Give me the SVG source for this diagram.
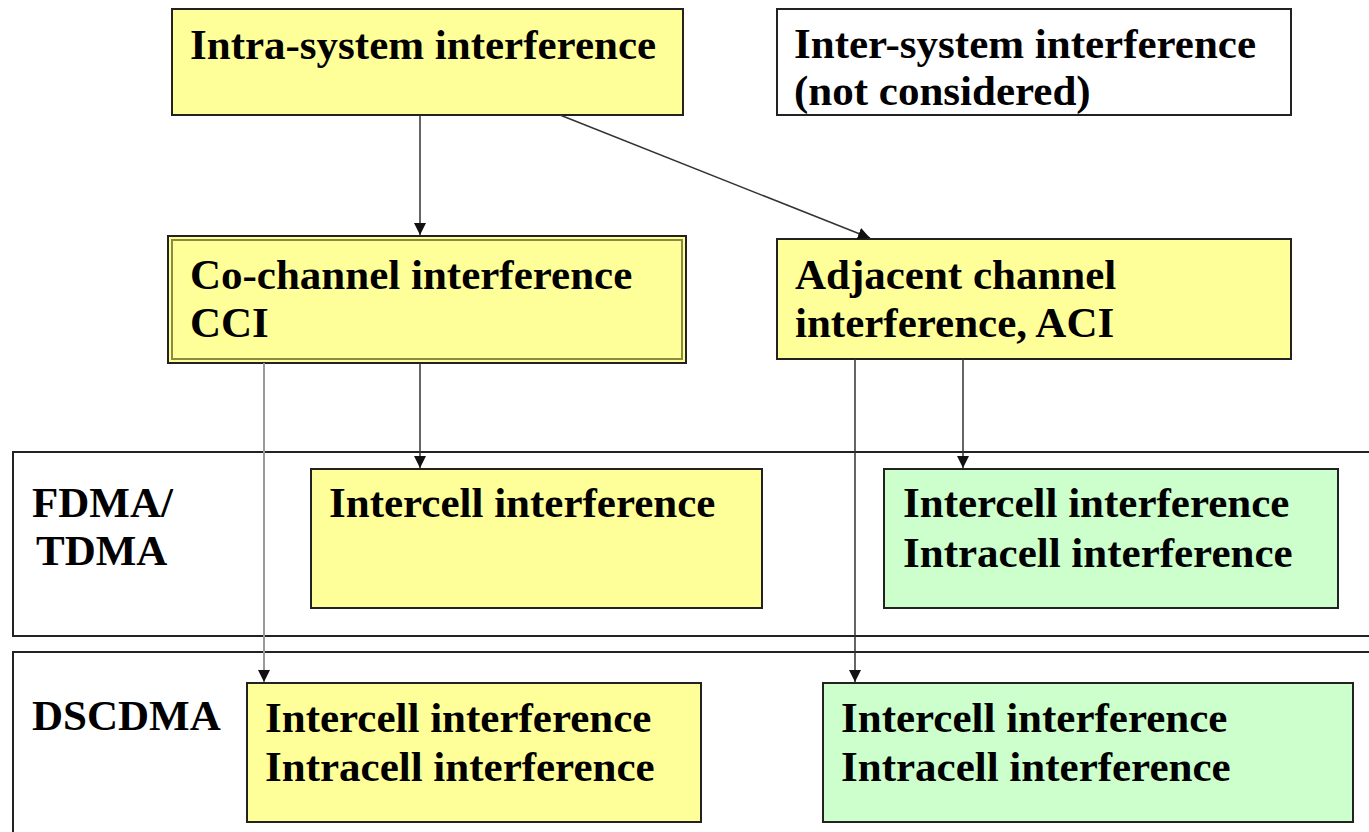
<svg xmlns="http://www.w3.org/2000/svg" width="1369" height="832" viewBox="0 0 1369 832">
<defs>
<marker id="ah" viewBox="0 0 10 10" refX="10" refY="5" markerWidth="12" markerHeight="12" markerUnits="userSpaceOnUse" orient="auto">
<path d="M0,0 L10,5 L0,10 z" fill="#111"/>
</marker>
</defs>
<rect width="1369" height="832" fill="#fff"/>
<g id="band-fdma">
<rect fill="none" stroke="#222" stroke-width="2" x="13" y="452" width="1370" height="184"/>
<text font-family="Liberation Serif" font-weight="bold" font-size="43" x="32" y="517">FDMA/</text>
<text font-family="Liberation Serif" font-weight="bold" font-size="43" x="36" y="565">TDMA</text>
</g>
<g id="band-dscdma">
<rect fill="none" stroke="#222" stroke-width="2" x="13" y="652" width="1370" height="200"/>
<text font-family="Liberation Serif" font-weight="bold" font-size="43" x="32" y="730">DSCDMA</text>
</g>
<g id="intra">
<rect fill="#ffff99" stroke="#222" stroke-width="2" x="172" y="9" width="511" height="106"/>
<text font-family="Liberation Serif" font-weight="bold" font-size="43" x="190" y="59">Intra-system interference</text>
</g>
<g id="inter">
<rect fill="#fff" stroke="#222" stroke-width="2" x="777" y="9" width="514" height="106"/>
<text font-family="Liberation Serif" font-weight="bold" font-size="43" x="794" y="58">Inter-system interference</text>
<text font-family="Liberation Serif" font-weight="bold" font-size="43" x="794" y="105">(not considered)</text>
</g>
<g id="cci">
<rect x="168" y="236" width="518" height="127" fill="#ffff99" stroke="#222" stroke-width="2"/>
<rect x="172" y="240" width="510" height="119" fill="none" stroke="#8a8a40" stroke-width="2"/>
<text font-family="Liberation Serif" font-weight="bold" font-size="43" x="190" y="289">Co-channel interference</text>
<text font-family="Liberation Serif" font-weight="bold" font-size="43" x="190" y="337">CCI</text>
</g>
<g id="aci">
<rect fill="#ffff99" stroke="#222" stroke-width="2" x="777" y="239" width="514" height="120"/>
<text font-family="Liberation Serif" font-weight="bold" font-size="43" x="795" y="289">Adjacent channel</text>
<text font-family="Liberation Serif" font-weight="bold" font-size="43" x="795" y="337">interference, ACI</text>
</g>
<g id="fdma-cci">
<rect fill="#ffff99" stroke="#222" stroke-width="2" x="311" y="469" width="451" height="139"/>
<text font-family="Liberation Serif" font-weight="bold" font-size="43" x="329" y="517">Intercell interference</text>
</g>
<g id="fdma-aci">
<rect fill="#ccffcc" stroke="#222" stroke-width="2" x="884" y="469" width="454" height="139"/>
<text font-family="Liberation Serif" font-weight="bold" font-size="43" x="903" y="517">Intercell interference</text>
<text font-family="Liberation Serif" font-weight="bold" font-size="43" x="903" y="567">Intracell interference</text>
</g>
<g id="cdma-cci">
<rect fill="#ffff99" stroke="#222" stroke-width="2" x="247" y="683" width="454" height="139"/>
<text font-family="Liberation Serif" font-weight="bold" font-size="43" x="265" y="732">Intercell interference</text>
<text font-family="Liberation Serif" font-weight="bold" font-size="43" x="265" y="781">Intracell interference</text>
</g>
<g id="cdma-aci">
<rect fill="#ccffcc" stroke="#222" stroke-width="2" x="823" y="683" width="530" height="139"/>
<text font-family="Liberation Serif" font-weight="bold" font-size="43" x="841" y="732">Intercell interference</text>
<text font-family="Liberation Serif" font-weight="bold" font-size="43" x="841" y="781">Intracell interference</text>
</g>
<g id="connectors" fill="none" marker-end="url(#ah)">
<line stroke="#333" stroke-width="1.5" x1="420" y1="115" x2="420" y2="235"/>
<line stroke="#333" stroke-width="1.5" x1="560" y1="115" x2="870" y2="238"/>
<line stroke="#999" stroke-width="2" x1="264" y1="363" x2="264" y2="682"/>
<line stroke="#333" stroke-width="1.5" x1="420" y1="363" x2="420" y2="468"/>
<line stroke="#333" stroke-width="1.5" x1="855" y1="359" x2="855" y2="682"/>
<line stroke="#333" stroke-width="1.5" x1="963" y1="359" x2="963" y2="468"/>
</g>
</svg>
